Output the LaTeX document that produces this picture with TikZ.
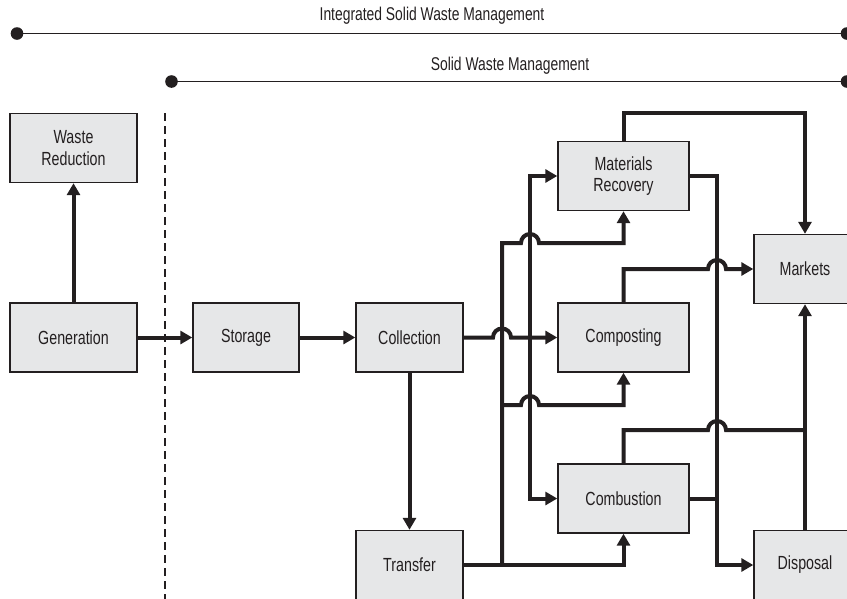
\documentclass[tikz,border=0pt]{standalone}
\usepackage{fontspec}
\setmainfont{Liberation Sans}[FakeStretch=0.75]
\definecolor{ink}{RGB}{35,31,32}
\definecolor{panel}{RGB}{230,231,232}
\usetikzlibrary{arrows.meta}

\begin{document}
\begin{tikzpicture}[x=1pt, y=-1pt,
    stage/.style={draw=ink, line width=1.4pt, fill=panel, text=ink, inner sep=0pt,
      minimum height=69pt, align=center, font=\fontsize{19}{21.5}\selectfont},
    flow/.style={draw=ink, line width=4pt, -{Triangle[length=12pt,width=13pt]}},
    pipe/.style={draw=ink, line width=4pt},
    span/.style={draw=ink, line width=1.5pt},
    spanlabel/.style={text=ink, font=\fontsize{18.5}{21}\selectfont}]
  \useasboundingbox (0,0) rectangle (847,598);
  \clip (0,0) rectangle (847,598);

  \coordinate (isw0) at (17,33.5);   \coordinate (isw1) at (847,33.5);
  \coordinate (sw0)  at (171.5,81.5); \coordinate (sw1) at (847,81.5);
  \draw[span] (isw0) -- (isw1);
  \draw[span] (sw0) -- (sw1);
  \foreach \p in {isw0,isw1,sw0,sw1}
    \fill[ink] (\p) circle (6.3);
  \node[spanlabel] (iswm) at (432,16) {Integrated Solid Waste Management};
  \node[spanlabel] (swm) at (510,66) {Solid Waste Management};

  \coordinate (fence0) at (165,113); \coordinate (fence1) at (165,600);
  \draw[ink, line width=1.2pt, dash pattern=on 8pt off 5pt] (fence0) -- (fence1);

  \node[stage, minimum width=127pt] (wr)   at (73.5,148)   {Waste\\Reduction};
  \node[stage, minimum width=127pt] (gen)  at (73.5,337.5) {Generation};
  \node[stage, minimum width=106pt] (sto)  at (246,337.5)  {Storage};
  \node[stage, minimum width=107pt] (col)  at (409.5,337.5) {Collection};
  \node[stage, minimum width=107pt] (tra)  at (409.5,565)  {Transfer};
  \node[stage, minimum width=131pt] (mr)   at (623.5,176)  {Materials\\Recovery};
  \node[stage, minimum width=131pt] (comp) at (623.5,337.5) {Composting};
  \node[stage, minimum width=131pt] (comb) at (623.5,498.5) {Combustion};
  \node[stage, minimum width=102pt] (mkt)  at (805,269)    {Markets};
  \node[stage, minimum width=102pt] (disp) at (805,565)    {Disposal};

  \draw[flow] (gen) -- (wr);
  \draw[flow] (gen) -- (sto);
  \draw[flow] (sto) -- (col);
  \draw[flow] (col) -- (tra);

  \coordinate (cbus) at (530,337.5);
  \coordinate (tbus) at (502,565);
  \coordinate (tbus1) at (502,405);
  \coordinate (dbus) at (717,498.5);
  \coordinate (mtop) at (805,113);
  \coordinate (mbus) at (805,430);

  \draw[flow] (col) -- (493,337.5) arc[start angle=180, end angle=360, radius=9] -- (comp);
  \draw[flow] (cbus) |- (mr);
  \draw[flow] (cbus) |- (comb);

  \draw[flow] (tra) -| (comb);
  \draw[flow] (tbus) -- (502,243) -- (521,243) arc[start angle=180, end angle=360, radius=9]
    -| (mr);
  \draw[flow] (tbus1) -- (521,405) arc[start angle=180, end angle=360, radius=9]
    -| (comp);

  \draw[flow] (mr.north) |- (mtop) -- (mkt);
  \draw[flow] (mr) -| (717,565) -- (disp);
  \draw[pipe] (comb) -- (dbus);
  \draw[flow] (comp.north) |- (708,269) arc[start angle=180, end angle=360, radius=9]
    -- (mkt);
  \draw[pipe] (comb.north) |- (708,430) arc[start angle=180, end angle=360, radius=9]
    -- (mbus);
  \draw[flow] (disp) -- (mkt);
\end{tikzpicture}
\end{document}
